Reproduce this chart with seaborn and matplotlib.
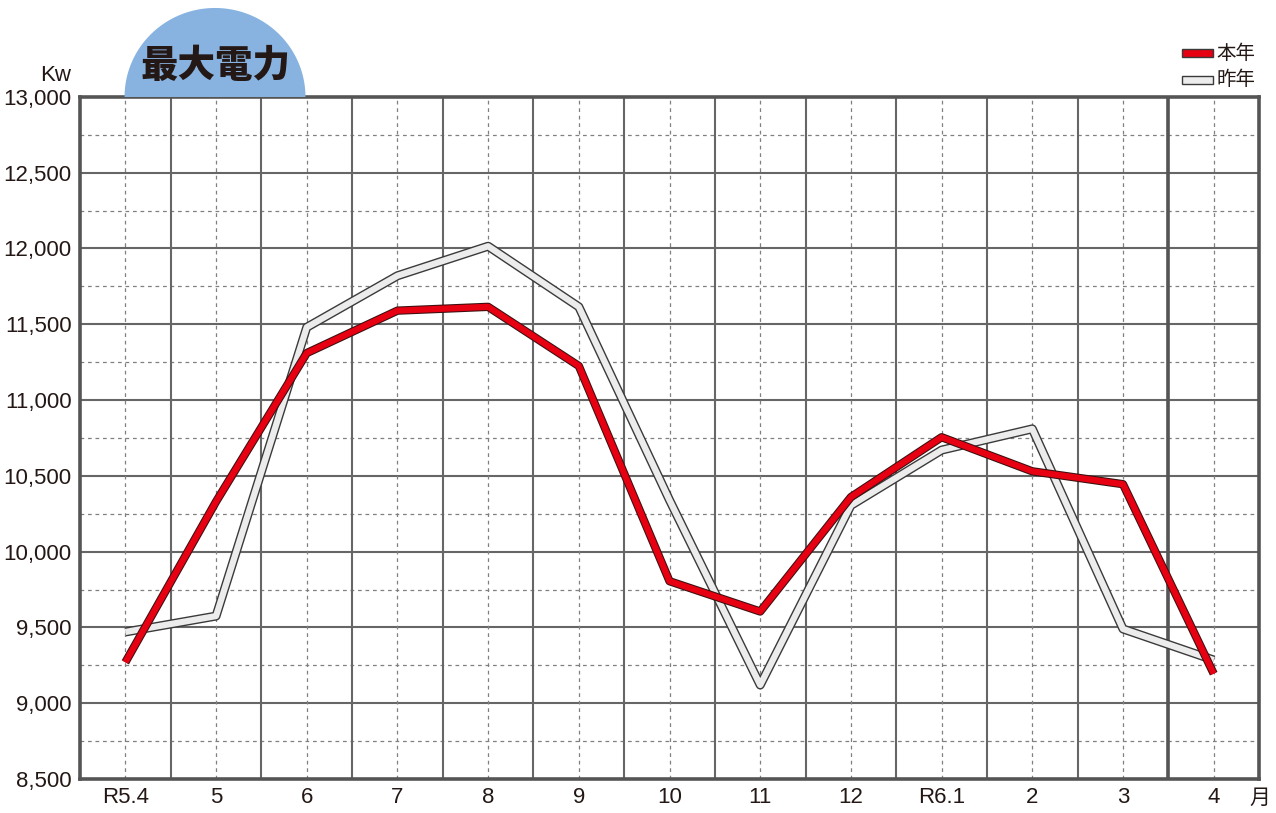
import numpy as np
import pandas as pd
import matplotlib
matplotlib.use("Agg")
import matplotlib.pyplot as plt
import matplotlib.patheffects as pe
from matplotlib.patches import Polygon, Rectangle
import seaborn as sns

# ============================================================
# DATA
# ============================================================

months = ["R5.4", "5", "6", "7", "8", "9", "10", "11", "12", "R6.1", "2", "3", "4"]
this_year = [9270, 10330, 11310, 11590, 11615, 11225, 9805, 9605, 10360, 10755, 10530, 10445, 9195]
last_year = [9470, 9575, 11480, 11820, 12015, 11615, 10340, 9120, 10305, 10670, 10810, 9490, 9285]
series_names = ["本年", "昨年"]

df = pd.DataFrame({
    "idx": list(range(len(months))) * 2,
    "kw": this_year + last_year,
    "series": [series_names[0]] * len(months) + [series_names[1]] * len(months),
})

# ============================================================
# STYLE
# ============================================================

sns.set_style("white")
plt.rcParams["font.family"] = ["Liberation Sans", "Noto Sans CJK JP", "DejaVu Sans"]

fig = plt.figure(figsize=(12.76, 8.13), dpi=100)
ax = fig.add_axes([0.0627, 0.0418, 0.924, 0.839])

# ============================================================
# GRID
# ============================================================

for v in np.arange(8750, 13000, 500):
    ax.axhline(v, color="#808080", lw=0.9, ls=(0, (3, 3)), zorder=1)
for v in np.arange(9000, 13000, 500):
    ax.axhline(v, color="#666666", lw=1.5, zorder=1)
for i in range(len(months)):
    ax.axvline(i, color="#808080", lw=0.9, ls=(0, (3, 3)), zorder=1)
for i in range(len(months) - 1):
    ax.axvline(i + 0.5, color="#666666", lw=1.5, zorder=1)
ax.axvline(11.5, color="#555555", lw=2.6, zorder=2)

# ============================================================
# LINES
# ============================================================

sns.lineplot(
    data=df[df["series"] == "昨年"], x="idx", y="kw",
    color="#ececec", lw=4.5, ax=ax, zorder=3, solid_capstyle="butt",
    path_effects=[pe.Stroke(linewidth=6.5, foreground="#3a3a3a"), pe.Normal()],
)
sns.lineplot(
    data=df[df["series"] == "本年"], x="idx", y="kw",
    color="#e60012", lw=4.5, ax=ax, zorder=4, solid_capstyle="butt",
    path_effects=[pe.Stroke(linewidth=6.0, foreground="#3a1010"), pe.Normal()],
)

# ============================================================
# AXES
# ============================================================

ax.set_xlim(-0.5, 12.5)
ax.set_ylim(8500, 13000)
ax.set_xticks(range(len(months)))
ax.set_xticklabels(months)
yt = np.arange(8500, 13001, 500)
ax.set_yticks(yt)
ax.set_yticklabels([f"{v:,}" for v in yt])
ax.tick_params(length=0, labelsize=16, colors="#231815", pad=6)
ax.set_xlabel("")
ax.set_ylabel("")
for s in ax.spines.values():
    s.set_color("#555555")
    s.set_linewidth(2.6)
    s.set_visible(True)
ax.grid(False)

fig.text(0.0435, 0.9075, "Kw", fontsize=16, color="#231815", ha="center", va="center")
fig.text(0.9875, 0.018, "月", fontsize=15, color="#231815", ha="center", va="center",
         family=["Noto Sans CJK JP"])

# title half-disc
t = np.linspace(0, np.pi, 100)
cx, cy, rx, ry = 0.1685, 0.8807, 0.0709, 0.1095
disc = Polygon(np.column_stack([cx + rx * np.cos(t), cy + ry * np.sin(t)]),
               closed=True, transform=fig.transFigure,
               facecolor="#88b3e0", edgecolor="none")
fig.patches.append(disc)
fig.text(0.1685, 0.919, "最大電力", fontsize=27, fontweight="black", color="#231815",
         ha="center", va="center", family=["Noto Sans CJK JP"])

# legend
for k, (name, fc) in enumerate(zip(series_names, ["#e60012", "#ececec"])):
    y0 = 0.9348 - k * 0.0332
    fig.patches.append(Rectangle((0.9265, y0 - 0.0049), 0.0245, 0.0098,
                                 transform=fig.transFigure, facecolor=fc,
                                 edgecolor="#3a3a3a", lw=1.0))
    fig.text(0.9535, y0, name, fontsize=14, color="#231815", ha="left", va="center",
             family=["Noto Sans CJK JP"])

fig.savefig("out.png", dpi=100)
